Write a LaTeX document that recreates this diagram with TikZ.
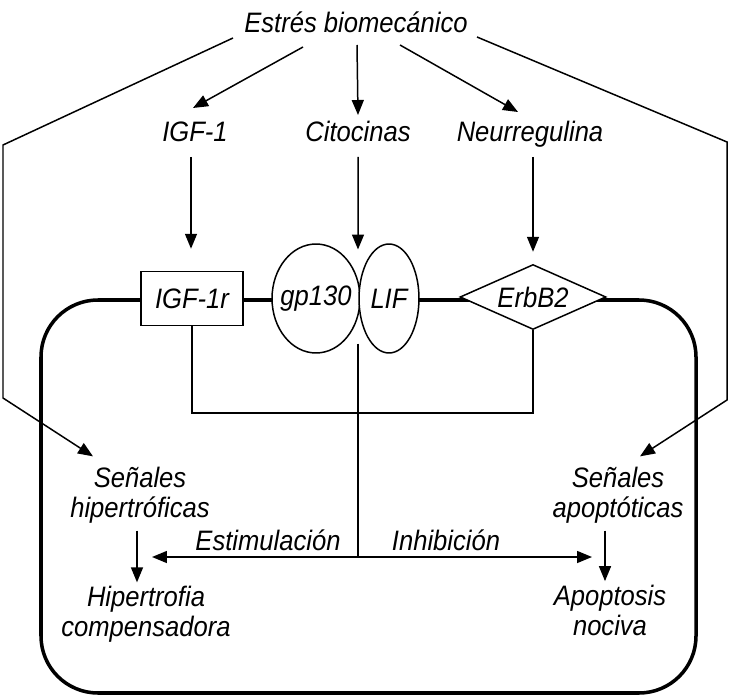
\documentclass[tikz,border=0pt]{standalone}
\usepackage{fontspec}
\setmainfont{Liberation Sans}[FakeStretch=0.91]
\usetikzlibrary{shapes.geometric,arrows.meta,positioning,calc}

\begin{document}
\begin{tikzpicture}[x=0.02cm, y=-0.02cm,
        font=\itshape\fontsize{16}{17}\selectfont,
        >={Triangle[length=3mm,width=2.4mm]},
        link/.style={line width=0.85pt},
        arr/.style={link, ->},
        membrane/.style={line width=2pt, rounded corners=1.14cm},
        txt/.style={inner sep=1pt, align=center},
        receptor/.style={draw, link, fill=white, inner sep=0pt}]
    \useasboundingbox (0,0) rectangle (730,699);

    % Cell membrane
    \draw[membrane] (41,300) rectangle (696,693);

    % Stimulus and ligands
    \node[txt, anchor=base] (stress) at (356,33) {Estrés biomecánico};
    \node[txt, anchor=base] (igf) at (195,142) {IGF-1};
    \node[txt, anchor=base] (cyt) at (358,142) {Citocinas};
    \node[txt, anchor=base] (nrg) at (530,142) {Neurregulina};

    % Receptors in the membrane
    \node[receptor, rectangle, minimum width=2.04cm, minimum height=1.08cm] (igfr) at (192,298.5) {IGF-1r};
    \node[receptor, ellipse, inner xsep=-3pt, minimum width=1.76cm, minimum height=2.18cm] (gp) at (316,298.5) {gp130};
    \node[receptor, ellipse, minimum width=1.2cm, minimum height=2.18cm] (lif) at (389,298.5) {LIF};
    \node[receptor, diamond, shape aspect=2.3, minimum width=2.92cm, minimum height=1.3cm] (erb) at (533,297) {ErbB2};
    \coordinate (dimer) at ($(gp.east)!0.5!(lif.west)$);

    % Signals inside the cell
    \node[txt] (hypSig) at (140,495.5) {Señales\\hipertróficas};
    \node[txt] (hypOut) at (146,614.5) {Hipertrofia\\compensadora};
    \node[txt] (apoSig) at (618,495.5) {Señales\\apoptóticas};
    \node[txt] (apoOut) at (610,610.5) {Apoptosis\\nociva};
    \node[txt, anchor=base] (stim) at (268,550) {Estimulación};
    \node[txt, anchor=base] (inh) at (446,550) {Inhibición};

    % Stimulus to ligands
    \draw[arr] ($(stress.base)+(-53,14)$) -- ($(igf.base)+(-2,-34)$);
    \draw[arr] ($(stress.base)+(1,12)$) -- ($(cyt.base)+(0,-27)$);
    \draw[arr] ($(stress.base)+(44,12)$) -- ($(nrg.base)+(-12,-30)$);

    % Direct paths to the intracellular signals
    \draw[arr] ($(stress.base)+(-123,5)$) -- (3,145) -- (3,398) -- ($(hypSig.north)+(-47,-9)$);
    \draw[arr] ($(stress.base)+(121,4)$) -- (727,142) -- (727,400) -- ($(apoSig.north)+(22,-9)$);

    % Ligands to receptors
    \draw[arr] ($(igf.base)+(-4,15)$) -- ($(igfr.north)+(-1,-22)$);
    \draw[arr] ($(cyt.base)+(0,15)$) -- ($(dimer)+(-1.5,-49)$);
    \draw[arr] ($(nrg.base)+(3,15)$) -- ($(erb.north)+(0,-12)$);

    % Receptor outputs
    \draw[link] (igfr.south) -- ++(0,87) -| (erb.south);
    \coordinate (stimEnd) at (152,557);
    \coordinate (inhEnd) at (592,557);
    \coordinate (fork) at (stimEnd -| dimer);
    \draw[link, <->] (stimEnd) -- (inhEnd);
    \draw[link] ($(dimer)+(-1.5,45)$) -- ($(fork)+(-1.5,0)$);

    % Signals to outcomes
    \draw[arr] ($(hypSig.south)+(-3,5)$) -- ($(hypOut.north)+(-9,-2)$);
    \draw[arr] ($(apoSig.south)+(-13,5)$) -- ($(apoOut.north)+(-5,-2)$);
\end{tikzpicture}
\end{document}
